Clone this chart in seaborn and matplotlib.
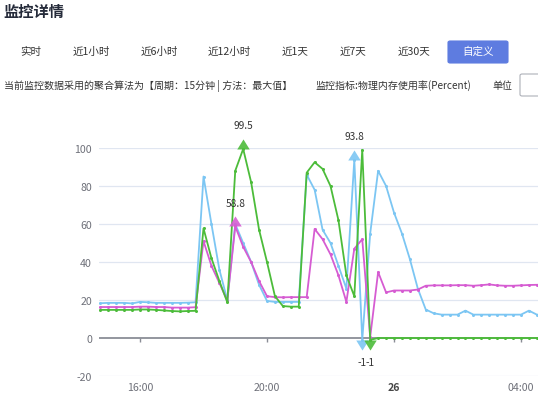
import numpy as np
import pandas as pd
import matplotlib
matplotlib.use("Agg")
import matplotlib.pyplot as plt
from matplotlib.patches import FancyBboxPatch
import seaborn as sns

sns.set_style("white")
plt.rcParams['font.family'] = ['Noto Sans CJK SC', 'DejaVu Sans']

# ---------------- data (15-minute samples, hours since 00:00 of day 25) ----------------
t_hours = [14.75 + 0.25 * i for i in range(57)]

blue = [18.3, 18.5, 18.5, 18.5, 18.2, 19.0, 18.8, 18.5, 18.5, 18.5, 18.5, 18.6,
        18.8, 85.0, 60.0, 36.0, 20.0, 60.0, 50.0, 40.0, 28.0, 19.5, 19.0, 19.0,
        19.0, 19.0, 86.0, 78.0, 57.0, 50.0, 38.0, 26.0, 93.8, -1.0, 55.0, 88.0,
        80.0, 66.0, 55.0, 41.5, 26.0, 15.0, 13.0, 12.3, 12.3, 12.3, 14.4, 12.3,
        12.3, 12.3, 12.3, 12.3, 12.3, 12.3, 14.4, 12.3, 12.3]

pink = [16.3, 16.3, 16.3, 16.3, 16.3, 16.5, 16.5, 16.3, 16.3, 16.0, 16.0, 16.0,
        16.2, 51.0, 38.0, 29.0, 19.6, 58.8, 48.0, 40.0, 30.0, 22.0, 21.5, 21.4,
        21.5, 21.5, 21.5, 57.4, 52.0, 44.0, 33.0, 19.0, 47.0, 52.0, 0.5, 34.7,
        24.0, 25.0, 25.0, 25.0, 25.5, 27.5, 27.7, 27.7, 27.7, 27.8, 27.8, 27.5,
        27.8, 28.2, 27.7, 27.5, 27.5, 27.7, 27.9, 28.0, 28.0]

green = [14.8, 14.8, 14.8, 14.8, 14.8, 15.0, 15.0, 14.8, 14.5, 14.2, 14.0, 14.2,
         14.3, 57.7, 42.0, 30.0, 18.8, 88.0, 99.5, 82.0, 57.0, 40.0, 22.0, 16.8,
         16.5, 16.5, 87.0, 92.5, 89.0, 80.0, 62.0, 33.0, 22.0, 99.0, -1.0, 0.0,
         0.0, 0.0, 0.0, 0.0, 0.0, 0.0, 0.0, 0.0, 0.0, 0.0, 0.0, 0.0,
         0.0, 0.0, 0.0, 0.0, 0.0, 0.0, 0.0, 0.0, 0.0]

series_names = ["blue", "pink", "green"]
series_colors = {"blue": "#7cc6f3", "pink": "#d65cd2", "green": "#4cbc3a"}

# max / min mark points: (series, time, value, kind)
mark_points = [("green", 19.25, 99.5, "max"),
               ("pink", 19.0, 58.8, "max"),
               ("blue", 22.75, 93.8, "max"),
               ("blue", 23.0, -1.0, "min"),
               ("green", 23.25, -1.0, "min")]

y_ticks = [-20, 0, 20, 40, 60, 80, 100]
x_tick_pos = [16, 20, 24, 28]
x_tick_labels = ["16:00", "20:00", "26", "04:00"]

tabs = ["实时", "近1小时", "近6小时", "近12小时", "近1天", "近7天", "近30天"]
tab_x = [31, 91, 159, 229, 295, 353, 414]

df = pd.DataFrame({
    "t": t_hours * 3,
    "v": blue + pink + green,
    "series": ["blue"] * len(blue) + ["pink"] * len(pink) + ["green"] * len(green),
})

# ---------------- figure ----------------
W, H = 538, 406
fig = plt.figure(figsize=(W / 100, H / 100), dpi=100)
fig.patch.set_facecolor("white")

def fy(py):
    return 1 - py / H

def fx(px):
    return px / W

# header
fig.text(fx(3), fy(12), "监控详情", fontsize=11, fontweight="bold",
         color="#252b3a", va="center", ha="left")
for lab, x in zip(tabs, tab_x):
    fig.text(fx(x), fy(52), lab, fontsize=7.6, color="#333333", va="center", ha="center")
btn = FancyBboxPatch((fx(448), fy(64)), fx(60), 22 / H,
                     boxstyle="round,pad=0,rounding_size=0.004",
                     transform=fig.transFigure, facecolor="#5e7ce0",
                     edgecolor="#5e7ce0", lw=0.8)
fig.patches.append(btn)
fig.text(fx(478), fy(52), "自定义", fontsize=7.6, color="white", va="center", ha="center")

fig.text(fx(4), fy(85.5), "当前监控数据采用的聚合算法为【周期：15分钟 | 方法：最大值】",
         fontsize=7.2, color="#333333", va="center", ha="left")
fig.text(fx(315), fy(85.5), "监控指标:物理内存使用率(Percent)",
         fontsize=7.2, color="#333333", va="center", ha="left")
fig.text(fx(492), fy(85.5), "单位", fontsize=7.2, color="#333333", va="center", ha="left")
box = FancyBboxPatch((fx(520), fy(97)), fx(30), 22 / H,
                     boxstyle="round,pad=0,rounding_size=0.004",
                     transform=fig.transFigure, facecolor="white",
                     edgecolor="#adb0b8", lw=0.8)
fig.patches.append(box)

# chart axes
ax = fig.add_axes([fx(99), (H - 377) / H, (W - 99) / W, 228 / H])
ax.set_facecolor("white")
for s in ax.spines.values():
    s.set_visible(False)

x0 = 16 + (99 - 140) / 31.75
x1 = 16 + (W - 140) / 31.75
ax.set_xlim(x0, x1)
ax.set_ylim(-20, 100)

for yv in y_ticks:
    if yv != 0:
        ax.axhline(yv, color="#e0e6f1", lw=0.9, zorder=0)
ax.axhline(0, color="#8a8d96", lw=1.3, zorder=1)
ax.vlines(x_tick_pos, -2.2, 0, color="#8a8d96", lw=1.0, zorder=1)

sns.lineplot(data=df, x="t", y="v", hue="series", hue_order=series_names,
             palette=series_colors, estimator=None, sort=False, legend=False,
             linewidth=1.3, marker="o", markersize=2.2, markeredgewidth=0,
             ax=ax, zorder=3)

up_tri = [(-0.62, 0), (0.62, 0), (0, 1)]
down_tri = [(-0.62, 0), (0.62, 0), (0, -1)]
for name, tx, val, kind in mark_points:
    c = series_colors[name]
    mk = up_tri if kind == "max" else down_tri
    ax.plot([tx], [val], marker=mk, markersize=14.5, color=c, alpha=0.9,
            markeredgewidth=0, linestyle="none", clip_on=False, zorder=5)
    off = 17 if kind == "max" else -16
    ax.annotate(f"{val:g}", (tx, val), xytext=(0, off), textcoords="offset points",
                ha="center", va="center", fontsize=7.3, color="#333333",
                annotation_clip=False, zorder=6)

ax.set_yticks(y_ticks)
ax.set_yticklabels([str(v) for v in y_ticks])
ax.set_xticks(x_tick_pos)
ax.set_xticklabels(x_tick_labels)
ax.tick_params(axis="y", length=0, pad=5, labelsize=7.6, labelcolor="#6e7079")
ax.tick_params(axis="x", length=0, pad=4, labelsize=7.6, labelcolor="#6e7079")
for lbl in ax.get_xticklabels():
    if lbl.get_text() == "26":
        lbl.set_fontweight("bold")
        lbl.set_color("#464646")
ax.set_xlabel("")
ax.set_ylabel("")

fig.savefig("out.png", dpi=100)
